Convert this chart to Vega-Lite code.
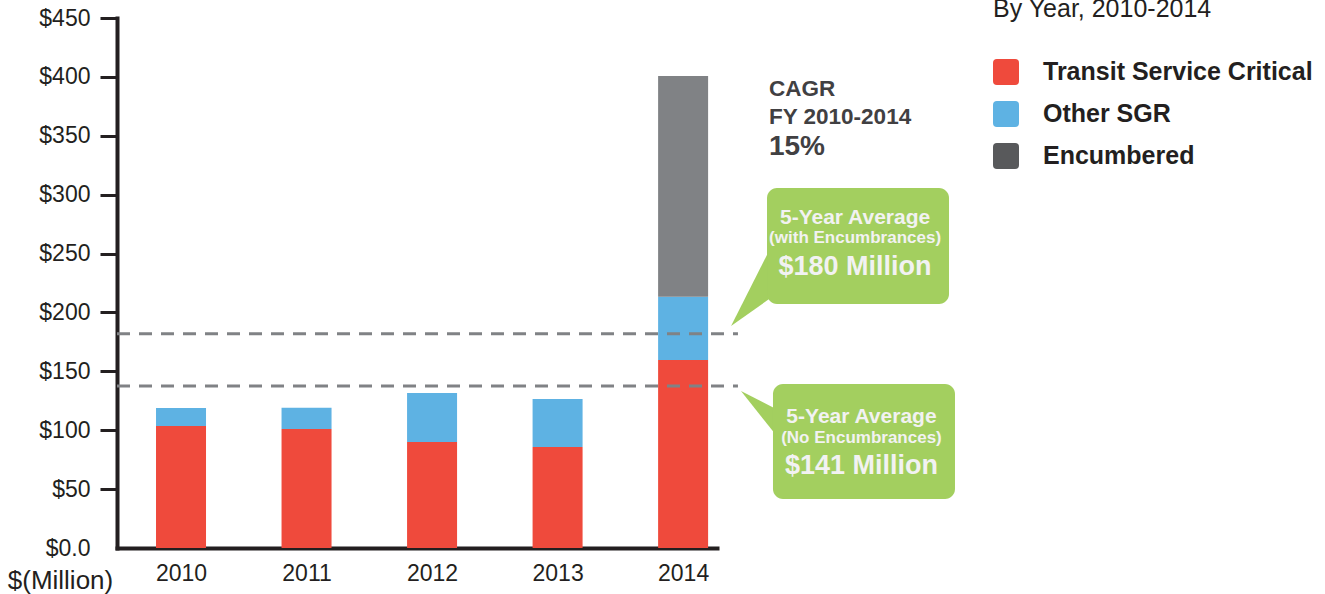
{
  "$schema": "https://vega.github.io/schema/vega-lite/v6.json",
  "width": 600,
  "height": 530,
  "autosize": {"type": "none"},
  "padding": {"left": 117, "top": 18, "right": 608, "bottom": 46},
  "background": "white",
  "config": {"view": {"stroke": null}, "font": "Liberation Sans", "axis": {"grid": false}},
  "datasets": {
    "bars": [
      {"year": 2010, "cat": "Transit Service Critical", "k": 1, "value": 103.6},
      {"year": 2010, "cat": "Other SGR", "k": 2, "value": 15.3},
      {"year": 2011, "cat": "Transit Service Critical", "k": 1, "value": 101.0},
      {"year": 2011, "cat": "Other SGR", "k": 2, "value": 18.0},
      {"year": 2012, "cat": "Transit Service Critical", "k": 1, "value": 90.0},
      {"year": 2012, "cat": "Other SGR", "k": 2, "value": 41.6},
      {"year": 2013, "cat": "Transit Service Critical", "k": 1, "value": 85.8},
      {"year": 2013, "cat": "Other SGR", "k": 2, "value": 40.7},
      {"year": 2014, "cat": "Transit Service Critical", "k": 1, "value": 159.6},
      {"year": 2014, "cat": "Other SGR", "k": 2, "value": 53.8},
      {"year": 2014, "cat": "Encumbered", "k": 3, "value": 187.4}
    ]
  },
  "layer": [
    {
      "data": {"name": "bars"},
      "mark": {"type": "bar", "width": 50, "strokeWidth": 0},
      "encoding": {
        "x": {
          "field": "year", "type": "quantitative",
          "scale": {"domain": [2009.49, 2014.27], "nice": false, "zero": false, "padding": 0},
          "axis": {
            "values": [2010, 2011, 2012, 2013, 2014], "format": "d", "title": null,
            "ticks": false, "labelPadding": 32, "labelBaseline": "alphabetic",
            "labelFontSize": 23, "labelColor": "#231f20", "labelFlush": false,
            "domainColor": "#231f20", "domainWidth": 4, "domainCap": "square"
          }
        },
        "y": {
          "datum": 0, "type": "quantitative",
          "scale": {"domain": [0, 450], "nice": false, "padding": 0},
          "axis": {
            "values": [0, 50, 100, 150, 200, 250, 300, 350, 400, 450],
            "labelExpr": "datum.value === 0 ? '$0.0' : '$' + datum.value",
            "tickSize": 17, "tickWidth": 3, "tickColor": "#231f20",
            "tickOpacity": {"condition": {"test": "datum.value === 0", "value": 0}, "value": 1},
            "domainWidth": 4, "domainColor": "#231f20", "domainCap": "square",
            "labelPadding": 10, "labelFontSize": 23, "labelColor": "#231f20",
            "title": "$(Million)", "titleAngle": 0, "titleX": -57, "titleY": 570,
            "titleAlign": "center", "titleBaseline": "alphabetic", "titleFontSize": 26,
            "titleFontWeight": "normal", "titleColor": "#231f20"
          }
        },
        "y2": {"datum": 0},
        "color": {
          "field": "cat", "type": "nominal",
          "scale": {"domain": ["Transit Service Critical", "Other SGR", "Encumbered"], "range": ["#ef4a3c", "#5eb2e3", "#58595b"]},
          "legend": {
            "orient": "none", "legendX": 876, "legendY": 41, "title": null,
            "symbolType": "M-0.7,-1L0.7,-1Q1,-1 1,-0.7L1,0.7Q1,1 0.7,1L-0.7,1Q-1,1 -1,0.7L-1,-0.7Q-1,-1 -0.7,-1Z",
            "symbolSize": 676, "symbolStrokeWidth": 0, "symbolOpacity": 1,
            "labelFontSize": 25, "labelFontWeight": "bold", "labelColor": "#231f20",
            "labelOffset": 24, "rowPadding": 16, "padding": 0, "labelLimit": 400
          }
        }
      }
    },
    {
      "data": {"name": "bars"},
      "mark": {"type": "bar", "width": 50, "strokeWidth": 0},
      "encoding": {
        "x": {"field": "year", "type": "quantitative"},
        "y": {"field": "value", "type": "quantitative", "stack": "zero"},
        "fill": {
          "field": "cat", "type": "nominal",
          "scale": {"domain": ["Transit Service Critical", "Other SGR", "Encumbered"], "range": ["#ef4a3c", "#5eb2e3", "#808285"]},
          "legend": null
        },
        "order": {"field": "k", "type": "quantitative"}
      }
    },
    {
      "data": {"values": [
        {"year": 2009.49, "year2": 2014.437, "value": 182},
        {"year": 2009.49, "year2": 2014.437, "value": 137.5}
      ]},
      "mark": {"type": "rule", "strokeDash": [13, 9], "strokeWidth": 3, "color": "#808285", "clip": false},
      "encoding": {
        "x": {"field": "year", "type": "quantitative"},
        "x2": {"field": "year2"},
        "y": {"field": "value", "type": "quantitative"}
      }
    },
    {
      "data": {"values": [
        {"g": "a", "year": 2014.382, "value": 188.49, "value2": 188.49},
        {"g": "a", "year": 2014.708, "value": 257.26, "value2": 213.11},
        {"g": "b", "year": 2014.461, "value": 133.3, "value2": 133.3},
        {"g": "b", "year": 2014.772, "value": 116.32, "value2": 91.7}
      ]},
      "mark": {"type": "area", "orient": "vertical", "color": "#a3cf5f", "opacity": 1, "clip": false},
      "encoding": {
        "x": {"field": "year", "type": "quantitative"},
        "y": {"field": "value", "type": "quantitative"},
        "y2": {"field": "value2"},
        "detail": {"field": "g"}
      }
    },
    {
      "data": {"values": [
        {"year": 2014.6685, "year2": 2016.1184, "value": 305.66, "value2": 207.17},
        {"year": 2014.716, "year2": 2016.166, "value": 139.25, "value2": 41.6}
      ]},
      "mark": {"type": "rect", "color": "#a3cf5f", "cornerRadius": 10, "clip": false},
      "encoding": {
        "x": {"field": "year", "type": "quantitative"},
        "x2": {"field": "year2"},
        "y": {"field": "value", "type": "quantitative"},
        "y2": {"field": "value2"}
      }
    },
    {
      "data": {"values": [
        {"year": 2015.37, "value": 275.09, "label": "5-Year Average"},
        {"year": 2015.421, "value": 106.13, "label": "5-Year Average"}
      ]},
      "mark": {"type": "text", "fontSize": 21, "fontWeight": "bold", "color": "#f2f2f2", "align": "center", "baseline": "alphabetic", "clip": false},
      "encoding": {
        "x": {"field": "year", "type": "quantitative"},
        "y": {"field": "value", "type": "quantitative"},
        "text": {"field": "label"}
      }
    },
    {
      "data": {"values": [
        {"year": 2015.37, "value": 258.96, "label": "(with Encumbrances)"},
        {"year": 2015.421, "value": 89.15, "label": "(No Encumbrances)"}
      ]},
      "mark": {"type": "text", "fontSize": 17, "fontWeight": "bold", "color": "#f2f2f2", "align": "center", "baseline": "alphabetic", "clip": false},
      "encoding": {
        "x": {"field": "year", "type": "quantitative"},
        "y": {"field": "value", "type": "quantitative"},
        "text": {"field": "label"}
      }
    },
    {
      "data": {"values": [
        {"year": 2015.37, "value": 231.79, "label": "$180 Million"},
        {"year": 2015.421, "value": 62.83, "label": "$141 Million"}
      ]},
      "mark": {"type": "text", "fontSize": 27, "fontWeight": "bold", "color": "#f2f2f2", "align": "center", "baseline": "alphabetic", "clip": false},
      "encoding": {
        "x": {"field": "year", "type": "quantitative"},
        "y": {"field": "value", "type": "quantitative"},
        "text": {"field": "label"}
      }
    },
    {
      "data": {"values": [
        {"year": 2014.684, "value": 383.77, "label": "CAGR"},
        {"year": 2014.684, "value": 360.0, "label": "FY 2010-2014"}
      ]},
      "mark": {"type": "text", "fontSize": 22.5, "fontWeight": "bold", "color": "#414042", "align": "left", "baseline": "alphabetic", "clip": false},
      "encoding": {
        "x": {"field": "year", "type": "quantitative"},
        "y": {"field": "value", "type": "quantitative"},
        "text": {"field": "label"}
      }
    },
    {
      "data": {"values": [
        {"year": 2014.684, "value": 333.68, "label": "15%"}
      ]},
      "mark": {"type": "text", "fontSize": 28, "fontWeight": "bold", "color": "#414042", "align": "left", "baseline": "alphabetic", "clip": false},
      "encoding": {
        "x": {"field": "year", "type": "quantitative"},
        "y": {"field": "value", "type": "quantitative"},
        "text": {"field": "label"}
      }
    },
    {
      "data": {"values": [
        {"year": 2016.469, "value": 450.85, "label": "By Year, 2010-2014"}
      ]},
      "mark": {"type": "text", "fontSize": 25, "fontWeight": "normal", "color": "#231f20", "align": "left", "baseline": "alphabetic", "clip": false},
      "encoding": {
        "x": {"field": "year", "type": "quantitative"},
        "y": {"field": "value", "type": "quantitative"},
        "text": {"field": "label"}
      }
    }
  ]
}
